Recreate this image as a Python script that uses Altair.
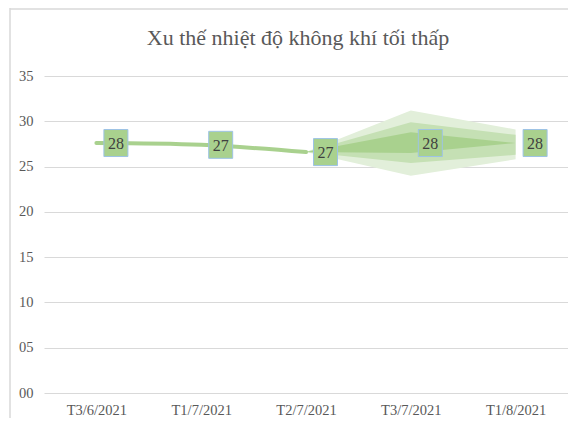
import altair as alt
import pandas as pd

# ---- data ----
categories = ["T3/6/2021", "T1/7/2021", "T2/7/2021", "T3/7/2021", "T1/8/2021"]
values = [27.6, 27.4, 26.6, 27.6, 27.6]

# forecast fan (from T2/7 to T1/8)
fan_categories = ["T2/7/2021", "T3/7/2021", "T1/8/2021"]
outer_lo = [26.6, 24.0, 25.8]
outer_hi = [26.6, 31.2, 29.1]
mid_lo = [26.6, 25.4, 26.3]
mid_hi = [26.6, 29.9, 28.5]
inner_lo = [26.6, 26.5, 27.6]
inner_hi = [26.6, 28.8, 27.6]

y_ticks = [0, 5, 10, 15, 20, 25, 30, 35]
title_text = "Xu thế nhiệt độ không khí tối thấp"

FONT = "Liberation Serif"
W, H = 524, 317

df = pd.DataFrame({"cat": categories, "val": values})
df_line = df.iloc[:3]
fan = pd.DataFrame({
    "cat": fan_categories * 3,
    "lo": outer_lo + mid_lo + inner_lo,
    "hi": outer_hi + mid_hi + inner_hi,
    "band": ["outer"] * 3 + ["mid"] * 3 + ["inner"] * 3,
})

xscale = alt.Scale(type="point", domain=categories, padding=0.5)
yscale = alt.Scale(domain=[0, 35], nice=False, zero=True)

x_enc = alt.X("cat:N", scale=xscale, sort=categories, axis=alt.Axis(
    title=None, domain=False, ticks=False, tickSize=0, labelAngle=0, labelAlign="center",
    labelFont=FONT, labelFontSize=14.5, labelColor="#595959", labelPadding=17))
y_enc = alt.Y("val:Q", scale=yscale, axis=alt.Axis(
    title=None, values=y_ticks, format="02d", domain=False, ticks=False, tickSize=0,
    grid=True, gridColor="#d9d9d9", gridWidth=1,
    labelFont=FONT, labelFontSize=14.5, labelColor="#595959", labelPadding=11))

one = pd.DataFrame({"a": [0]})
border_left = alt.Chart(one).mark_rule(color="#d9d9d9", strokeWidth=1.5).encode(
    x=alt.value(-34), y=alt.value(-68), y2=alt.value(H + 30))
border_top = alt.Chart(one).mark_rule(color="#d9d9d9", strokeWidth=1.5).encode(
    x=alt.value(-34), x2=alt.value(W + 10), y=alt.value(-67))

band_colors = {"outer": "#e2efda", "mid": "#c5e0b4", "inner": "#a9d18e"}
fan_layers = []
for b in ["outer", "mid", "inner"]:
    fan_layers.append(
        alt.Chart(fan[fan["band"] == b]).mark_area(color=band_colors[b], opacity=1).encode(
            x=alt.X("cat:N", scale=xscale, sort=categories),
            y=alt.Y("lo:Q", scale=yscale),
            y2="hi:Q",
        )
    )

line = alt.Chart(df_line).mark_line(
    color="#a9d18e", strokeWidth=4, interpolate="catmull-rom", strokeCap="round"
).encode(x=x_enc, y=y_enc)

box = alt.Chart(df).mark_point(
    shape="M-1,-1.125H1V1.125H-1Z", size=576, filled=True, fill="#a9d18e",
    stroke="#9dc3e6", strokeWidth=1, opacity=1, xOffset=19.5
).encode(x=alt.X("cat:N", scale=xscale, sort=categories), y=alt.Y("val:Q", scale=yscale))

labels = alt.Chart(df).mark_text(
    font=FONT, fontSize=16, color="#404040", xOffset=19.5, dy=1
).encode(
    x=alt.X("cat:N", scale=xscale, sort=categories),
    y=alt.Y("val:Q", scale=yscale),
    text=alt.Text("val:Q", format=".0f"),
)

title = alt.Chart(one).mark_text(
    font=FONT, fontSize=22, color="#595959", align="center", baseline="alphabetic"
).encode(x=alt.value(254), y=alt.value(-31), text=alt.value(title_text))

chart = alt.layer(
    border_left, border_top, *fan_layers, line, box, labels, title
).properties(
    width=W, height=H,
    autosize=alt.AutoSizeParams(type="none"),
    padding={"left": 36, "top": 68, "right": 0, "bottom": 25},
).configure_view(stroke=None)

chart.save("out.html", embed_options={"renderer": "svg", "actions": False})
